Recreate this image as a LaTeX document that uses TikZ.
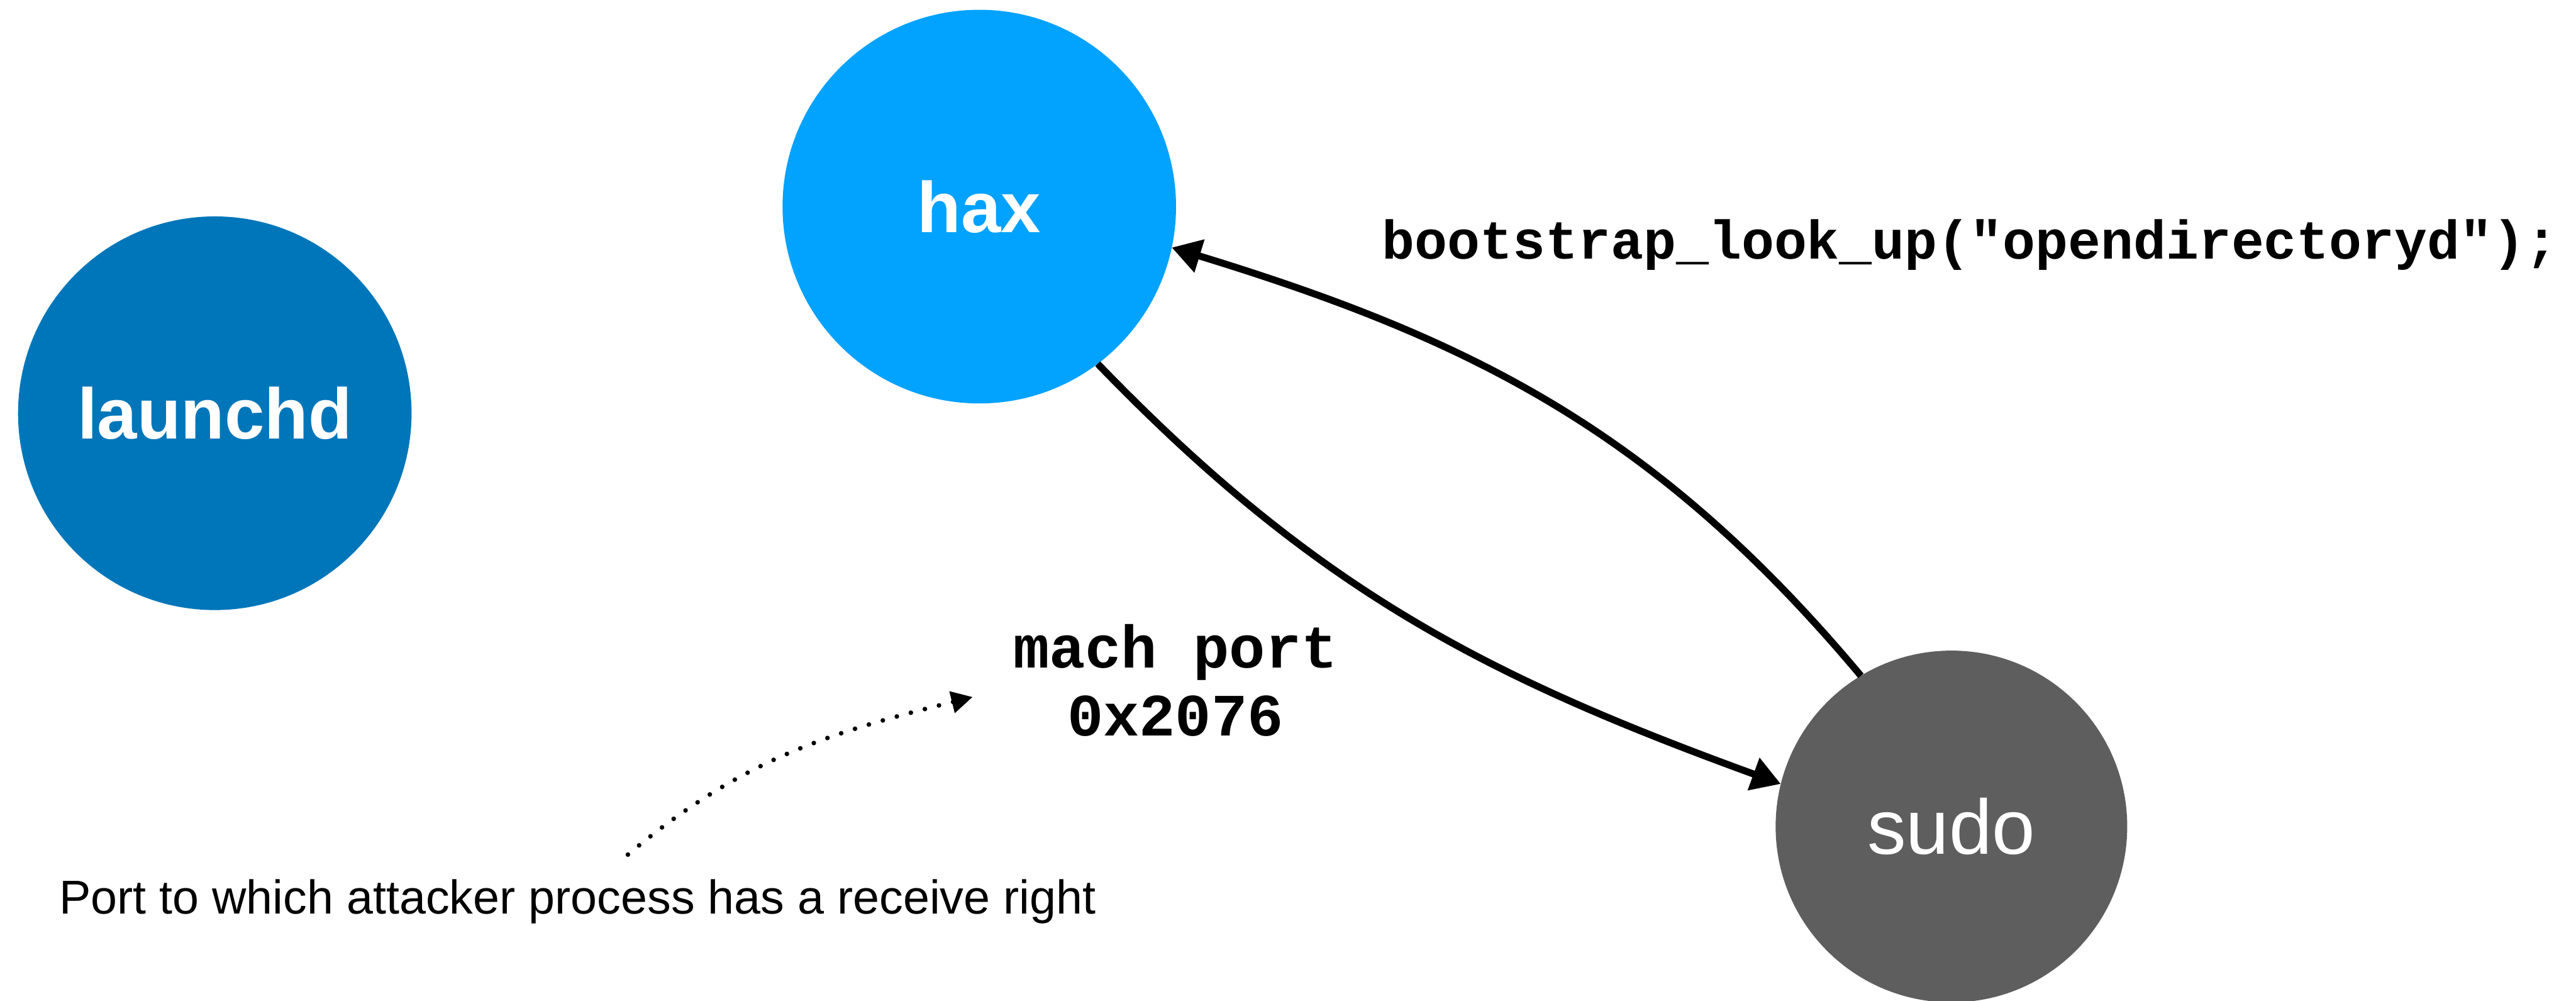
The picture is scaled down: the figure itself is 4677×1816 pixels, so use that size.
\documentclass[tikz,border=0pt]{standalone}
\usepackage{fontspec}
\setmainfont{Liberation Sans}
\setmonofont{Liberation Mono}
\usetikzlibrary{arrows.meta}
\definecolor{launchdblue}{HTML}{0076BA}
\definecolor{haxblue}{HTML}{02A2FF}
\definecolor{sudogray}{HTML}{5E5E5E}
\begin{document}
\begin{tikzpicture}[x=0.01cm,y=0.01cm,
  proc/.style={circle, inner sep=0pt, outer sep=0pt, text=white},
  bigproc/.style={proc, minimum size=7.14cm, font=\fontsize{37}{44}\selectfont\bfseries},
  code/.style 2 args={inner sep=0pt, font=\fontsize{#1}{#2}\selectfont\ttfamily\bfseries},
  note/.style={inner sep=0pt, font=\fontsize{24.5}{29}\selectfont},
  link/.style={line width=3.6pt, -{Triangle[length=15pt,width=17pt]}},
  dotlink/.style={line width=2.4pt, line cap=round, dash pattern=on 0pt off 7.5pt, -{Triangle[length=11pt,width=11pt]}}
]
\useasboundingbox (0,0) rectangle (4677,1816);
\node[bigproc, fill=launchdblue] (launchd) at (390,1066) {launchd};
\node[bigproc, fill=haxblue] (hax) at (1778,1441) {hax};
\node[proc, fill=sudogray, minimum size=6.38cm, font=\fontsize{40}{48}\selectfont] (sudo) at (3543,316) {sudo};

\node[code={28.1}{34}, anchor=base west] (lookup) at (2509,1346) {bootstrap\_look\_up("opendirectoryd");};
\node[code={31}{35}, align=center] (portlabel) at (2134,581) {mach port\\0x2076};
\node[note, anchor=base west] (caption) at (107,157) {Port to which attacker process has a receive right};

\draw[link] (hax.-53) to[out=-46,in=160] (sudo.166);
\draw[link] (sudo.121) to[out=130,in=-17] (hax.-12);

\coordinate (dotstart) at (1140,265);
\coordinate (dotend) at (1766,551);
\draw[dotlink] (dotstart) to[out=40,in=-166] (dotend);
\end{tikzpicture}
\end{document}
